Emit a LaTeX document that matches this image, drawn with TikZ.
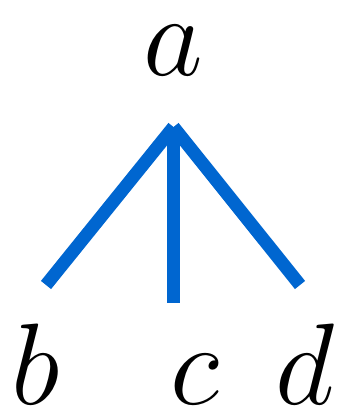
\documentclass[tikz,border=0pt]{standalone}
\usepackage{fix-cm}
\definecolor{edgeblue}{RGB}{0,102,208}
\tikzset{
  lbl/.style={anchor=base, inner sep=0pt, font=\fontsize{116}{120}\selectfont},
  edge/.style={draw=edgeblue, line width=13pt, line cap=butt, line join=miter}
}
\begin{document}
\begin{tikzpicture}[x=1pt,y=-1pt]
\useasboundingbox (0,0) rectangle (341,409);
\node[lbl] (a) at (173,76) {$a$};
\node[lbl] (b) at (36,404) {$b$};
\node[lbl] (c) at (195,404) {$c$};
\node[lbl] (d) at (305,404) {$d$};
\coordinate (top) at (173.5,127);
\coordinate (eb) at (46,285);
\coordinate (ec) at (173.5,303);
\coordinate (ed) at (300,285);
\draw[edge] (top) -- (eb);
\draw[edge] (top) -- (ec);
\draw[edge] (top) -- (ed);
\end{tikzpicture}
\end{document}
